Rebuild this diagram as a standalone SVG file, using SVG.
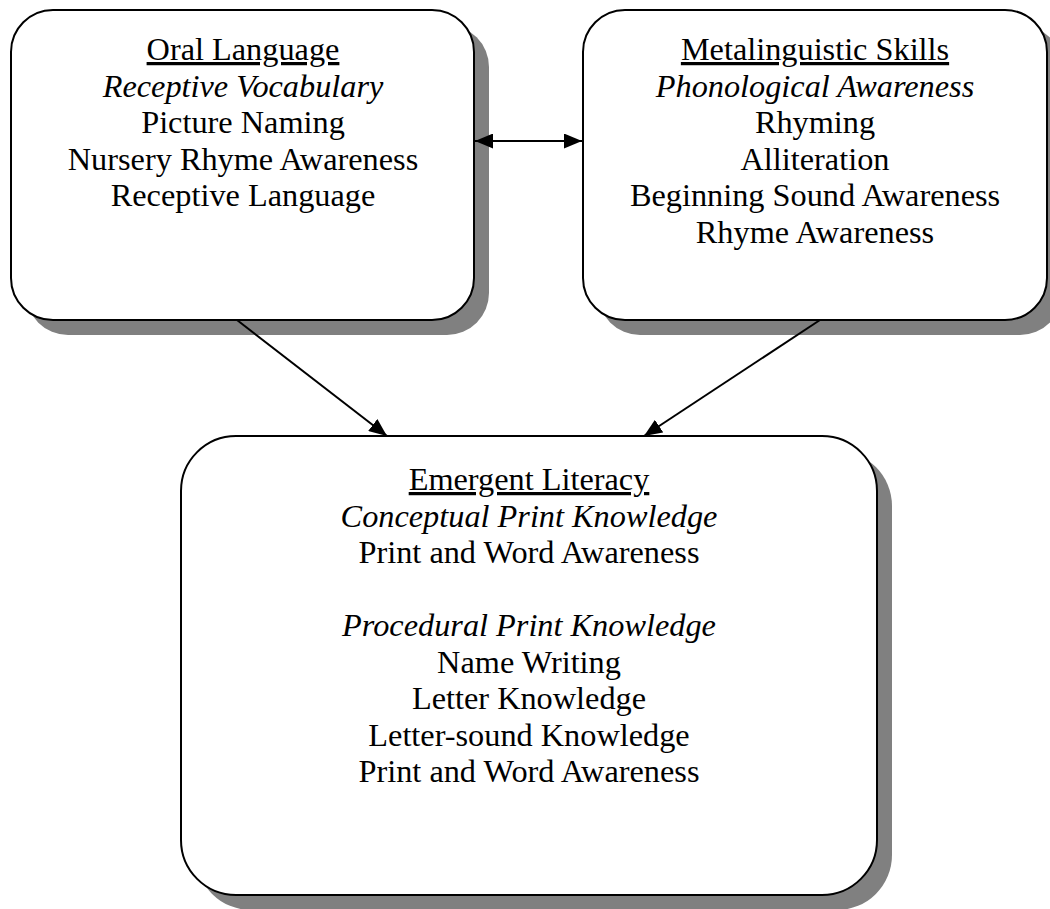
<svg xmlns="http://www.w3.org/2000/svg" width="1050" height="909" viewBox="0 0 1050 909">
<style>
.shadow{fill:#808080;stroke:none}
.box{fill:#fff;stroke:#000;stroke-width:2}
text{font-family:"Liberation Serif","Times New Roman",serif;font-size:32.3px;fill:#000;text-anchor:middle}
.u{text-decoration:underline}
.i{font-style:italic}
.conn{stroke:#000;stroke-width:2;fill:none}
</style>
<defs>
<marker id="ah" markerUnits="userSpaceOnUse" markerWidth="19" markerHeight="15" refX="18" refY="7.5" orient="auto-start-reverse">
<path d="M0,0 L18,7.5 L0,15 Z" fill="#000"/>
</marker>
</defs>
<rect width="1050" height="909" fill="#fff"/>
<g id="oral">
<rect class="shadow" x="26" y="25" width="463" height="310" rx="42"/>
<rect class="box" x="11" y="10" width="463" height="310" rx="42"/>
<text x="243" y="60" class="u">Oral Language</text>
<text x="243" y="97" class="i">Receptive Vocabulary</text>
<text x="243" y="133">Picture Naming</text>
<text x="243" y="170">Nursery Rhyme Awareness</text>
<text x="243" y="206">Receptive Language</text>
</g>
<g id="meta">
<rect class="shadow" x="598" y="25" width="464" height="310" rx="42"/>
<rect class="box" x="583" y="10" width="464" height="310" rx="42"/>
<text x="815" y="60" class="u">Metalinguistic Skills</text>
<text x="815" y="97" class="i">Phonological Awareness</text>
<text x="815" y="133">Rhyming</text>
<text x="815" y="170">Alliteration</text>
<text x="815" y="206">Beginning Sound Awareness</text>
<text x="815" y="243">Rhyme Awareness</text>
</g>
<g id="emergent">
<rect class="shadow" x="196" y="451" width="696" height="459" rx="55"/>
<rect class="box" x="181" y="436" width="696" height="459" rx="55"/>
<text x="529" y="490" class="u">Emergent Literacy</text>
<text x="529" y="527" class="i">Conceptual Print Knowledge</text>
<text x="529" y="563">Print and Word Awareness</text>
<text x="529" y="636" class="i">Procedural Print Knowledge</text>
<text x="529" y="673">Name Writing</text>
<text x="529" y="709">Letter Knowledge</text>
<text x="529" y="746">Letter-sound Knowledge</text>
<text x="529" y="782">Print and Word Awareness</text>
</g>
<g id="connectors">
<line class="conn" x1="475" y1="141" x2="582" y2="141" marker-start="url(#ah)" marker-end="url(#ah)"/>
<line class="conn" x1="237" y1="320" x2="387" y2="436" marker-end="url(#ah)"/>
<line class="conn" x1="820" y1="320" x2="644" y2="436" marker-end="url(#ah)"/>
</g>
</svg>
